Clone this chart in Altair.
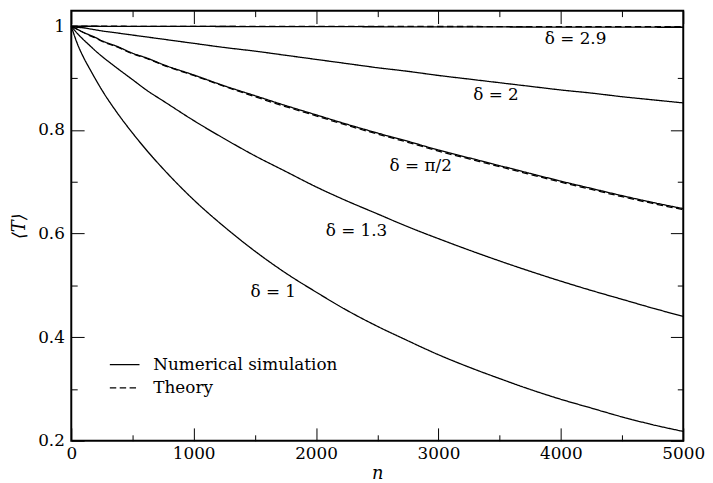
import altair as alt
import pandas as pd

FONT = "DejaVu Serif"
FS = 17

# ---- data ----
n_vals = [0, 50, 100, 150, 200, 250, 375, 500, 625, 750, 1000, 1250, 1500, 1750, 2000,
          2250, 2500, 2750, 3000, 3250, 3500, 3750, 4000, 4250, 4500, 4750, 5000]

sim_d29 = [1.0, 1.0, 1.0, 1.0, 1.0, 0.9999, 0.9999, 0.9998, 0.9998, 0.9997, 0.9996, 0.9995, 0.9994,
           0.9993, 0.9992, 0.9991, 0.9990, 0.9989, 0.9988, 0.9987, 0.9986, 0.9985, 0.9984, 0.9983,
           0.9982, 0.9981, 0.998]
sim_d2 = [1.0, 0.998, 0.997, 0.995, 0.993, 0.991, 0.987, 0.983, 0.979, 0.975, 0.967, 0.959, 0.952,
          0.944, 0.936, 0.928, 0.920, 0.913, 0.905, 0.898, 0.891, 0.884, 0.877, 0.871, 0.864, 0.858, 0.852]
sim_dpi2 = [1.0, 0.994, 0.988, 0.983, 0.978, 0.972, 0.961, 0.948, 0.938, 0.926, 0.906, 0.885, 0.866,
            0.847, 0.829, 0.811, 0.794, 0.778, 0.761, 0.746, 0.731, 0.716, 0.701, 0.687, 0.673, 0.660, 0.648]
sim_d13 = [1.0, 0.986, 0.974, 0.963, 0.952, 0.942, 0.919, 0.897, 0.875, 0.856, 0.818, 0.783, 0.750,
           0.720, 0.690, 0.663, 0.638, 0.613, 0.590, 0.568, 0.547, 0.527, 0.508, 0.490, 0.473, 0.456, 0.440]
sim_d1 = [1.0, 0.966, 0.940, 0.918, 0.897, 0.877, 0.833, 0.794, 0.758, 0.725, 0.665, 0.613, 0.566,
          0.524, 0.487, 0.452, 0.421, 0.393, 0.366, 0.342, 0.320, 0.299, 0.280, 0.263, 0.246, 0.231, 0.218]

th_d29 = [1.0, 1.0, 1.0, 1.0, 1.0, 1.0, 1.0, 0.9999, 0.9999, 0.9999, 0.9999, 0.9998, 0.9998, 0.9998,
          0.9997, 0.9997, 0.9996, 0.9996, 0.9995, 0.9995, 0.9994, 0.9994, 0.9993, 0.9993, 0.9992,
          0.9992, 0.9991]
th_dpi2 = [1.0, 0.994, 0.988, 0.982, 0.977, 0.971, 0.960, 0.947, 0.937, 0.925, 0.905, 0.884, 0.864,
           0.845, 0.827, 0.809, 0.792, 0.776, 0.759, 0.744, 0.729, 0.714, 0.699, 0.685, 0.671, 0.658, 0.646]

x_major = [0, 1000, 2000, 3000, 4000, 5000]
x_minor = [500, 1500, 2500, 3500, 4500]
y_major = [0.2, 0.4, 0.6, 0.8, 1.0]
y_minor = [0.3, 0.5, 0.7, 0.9]

label_text = ["δ = 2.9", "δ = 2", "δ = π/2", "δ = 1.3", "δ = 1"]
label_n = [4120, 3470, 2855, 2330, 1650]
label_T = [0.975, 0.868, 0.731, 0.604, 0.487]

kinds = ["Numerical simulation", "Theory"]

# ---- tables ----
rows = []
for name, vals in [("2.9", sim_d29), ("2", sim_d2), ("pi/2", sim_dpi2), ("1.3", sim_d13), ("1", sim_d1)]:
    for n, t in zip(n_vals, vals):
        rows.append({"n": n, "T": t, "delta": name, "kind": kinds[0]})
df_sim = pd.DataFrame(rows)

rows = []
for name, vals in [("2.9", th_d29), ("pi/2", th_dpi2)]:
    for n, t in zip(n_vals, vals):
        rows.append({"n": n, "T": t, "delta": name, "kind": kinds[1]})
df_th = pd.DataFrame(rows)

df_lab = pd.DataFrame({"n": label_n, "T": label_T, "text": label_text})

xs = alt.Scale(domain=[0, 5000], nice=False, zero=False)
ys = alt.Scale(domain=[0.2, 1.03], nice=False, zero=False)

dash_scale = alt.Scale(domain=kinds, range=[[1, 0], [6.5, 3.5]])
leg = alt.Legend(title=None, orient="none", legendX=43, legendY=347,
                 symbolType="M-1.5,0L1.5,0", symbolSize=400, symbolStrokeWidth=1.2,
                 symbolStrokeColor="black", symbolFillColor="transparent",
                 labelFont=FONT, labelFontSize=FS,
                 labelColor="black", labelOffset=18, labelLimit=500,
                 rowPadding=4.5, padding=0)


def tick_axis(orient, values, size):
    return alt.Axis(orient=orient, values=values, labels=False, ticks=True,
                    tickSize=size, offset=-size, tickColor="black", tickWidth=1,
                    domain=False, grid=False, title=None)


x_lab = alt.Axis(orient="bottom", values=x_major, format="d", ticks=False, tickSize=0,
                 labelPadding=5, labelFont=FONT, labelFontSize=FS, labelColor="black",
                 labelFlush=False, title="n", titleFont=FONT, titleFontSize=18,
                 titleFontStyle="italic", titleFontWeight="normal", titleColor="black",
                 titlePadding=3, domain=False, grid=False)
y_lab = alt.Axis(orient="left", values=y_major, format="~g", ticks=False, tickSize=0,
                 labelPadding=7, labelFont=FONT, labelFontSize=FS, labelColor="black",
                 labelFlush=False, title="⟨T⟩", titleFont=FONT, titleFontSize=18,
                 titleFontStyle="italic", titleFontWeight="normal", titleColor="black",
                 titlePadding=9, domain=False, grid=False)

sim = alt.Chart(df_sim).mark_line(color="black", strokeWidth=1.3, interpolate="monotone").encode(
    x=alt.X("n:Q", scale=xs, axis=x_lab),
    y=alt.Y("T:Q", scale=ys, axis=y_lab),
    detail="delta:N",
    strokeDash=alt.StrokeDash("kind:N", scale=dash_scale, legend=leg),
)

theory = alt.Chart(df_th).mark_line(color="black", strokeWidth=1.3, interpolate="monotone").encode(
    x=alt.X("n:Q", scale=xs, axis=tick_axis("bottom", x_major, 13)),
    y=alt.Y("T:Q", scale=ys, axis=tick_axis("left", y_major, 13)),
    detail="delta:N",
    strokeDash=alt.StrokeDash("kind:N", scale=dash_scale, legend=leg),
)

labels = alt.Chart(df_lab).mark_text(font=FONT, fontSize=FS, color="black",
                                     align="center", baseline="middle").encode(
    x=alt.X("n:Q", scale=xs, axis=tick_axis("bottom", x_minor, 6)),
    y=alt.Y("T:Q", scale=ys, axis=tick_axis("left", y_minor, 6)),
    text="text:N",
)

ghost1 = alt.Chart(df_lab).mark_point(opacity=0).encode(
    x=alt.X("n:Q", scale=xs, axis=tick_axis("top", x_major, 13)),
    y=alt.Y("T:Q", scale=ys, axis=tick_axis("right", y_major, 13)),
)
ghost2 = alt.Chart(df_lab).mark_point(opacity=0).encode(
    x=alt.X("n:Q", scale=xs, axis=tick_axis("top", x_minor, 6)),
    y=alt.Y("T:Q", scale=ys, axis=tick_axis("right", y_minor, 6)),
)

chart = alt.layer(sim, theory, labels, ghost1, ghost2).resolve_axis(
    x="independent", y="independent"
).properties(
    width=619, height=435,
    padding={"left": 64, "top": 0, "right": 22, "bottom": 40},
    autosize=alt.AutoSizeParams(type="none"),
    background="white",
).configure_view(stroke="black", strokeWidth=2)

chart.save("out.html", embed_options={"renderer": "svg", "actions": False})
